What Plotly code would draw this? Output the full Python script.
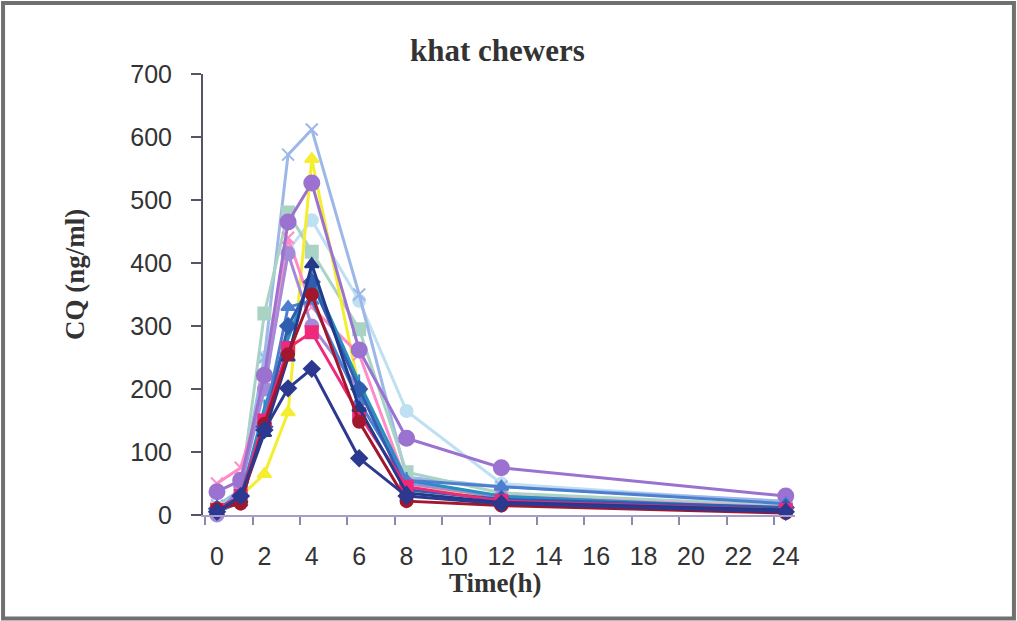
import plotly.graph_objects as go

time_h = [0, 1, 2, 3, 4, 6, 8, 12, 24]

# concentration series (ng/ml), one per subject
s_pale_cyan   = [12, 30, 250, 420, 468, 340, 165, 50, 20]
s_light_blue  = [15, 40, 250, 572, 612, 350, 60, 45, 22]
s_pale_green  = [10, 40, 320, 480, 418, 295, 68, 35, 15]
s_yellow      = [5, 30, 65, 163, 565, 200, 50, 25, 10]
s_pink_x      = [50, 75, 200, 440, 330, 255, 50, 30, 12]
s_lavender    = [0, 45, 200, 415, 300, 200, 50, 28, 10]
s_purple      = [37, 55, 222, 465, 527, 262, 122, 75, 30]
s_teal_blue   = [8, 28, 170, 280, 380, 210, 55, 30, 10]
s_mid_blue    = [5, 20, 150, 330, 340, 180, 55, 45, 18]
s_blue        = [10, 30, 140, 300, 370, 200, 40, 25, 12]
s_pink_sq     = [8, 30, 150, 265, 290, 160, 45, 22, 8]
s_navy_tri    = [5, 25, 130, 250, 398, 170, 35, 20, 8]
s_dark_red    = [10, 18, 145, 255, 350, 148, 22, 15, 3]
s_navy_diam   = [5, 30, 135, 201, 232, 90, 30, 18, 5]

series = [
    ("s1", s_pale_cyan, "#BFE0F2", "circle", 12),
    ("s2", s_light_blue, "#9DB8E8", "x-thin-open", 12),
    ("s3", s_pale_green, "#A9D3C4", "square", 12),
    ("s4", s_yellow, "#F5EE30", "triangle-up", 12),
    ("s5", s_pink_x, "#FF8CC6", "x-thin-open", 12),
    ("s6", s_lavender, "#A48BD8", "circle", 13),
    ("s7", s_purple, "#9B72CF", "circle", 15),
    ("s8", s_teal_blue, "#2A8FBF", "line-ns-open", 12),
    ("s9", s_mid_blue, "#4D7FD0", "triangle-up", 12),
    ("s10", s_blue, "#2F5DAF", "diamond", 12),
    ("s11", s_pink_sq, "#F0287A", "square", 12),
    ("s12", s_navy_tri, "#233A8A", "triangle-up", 12),
    ("s13", s_dark_red, "#A3172D", "circle", 12),
    ("s14", s_navy_diam, "#2B3990", "diamond", 12),
]

fig = go.Figure()
for name, vals, col, sym, msize in series:
    fig.add_trace(go.Scatter(
        x=time_h, y=vals, name=name, mode="lines+markers",
        line=dict(color=col, width=3),
        marker=dict(color=col, symbol=sym, size=msize,
                    line=dict(color=col, width=2)),
        cliponaxis=False, showlegend=False,
    ))

tick_vals = [0, 2, 4, 6, 8, 10, 12, 14, 16, 18, 20, 22, 24]

fig.update_layout(
    width=1017, height=621,
    margin=dict(l=0, r=0, t=0, b=0, pad=0, autoexpand=False),
    paper_bgcolor="white", plot_bgcolor="white",
    showlegend=False,
    xaxis=dict(
        domain=[203/1017, 795/1017],
        range=[-0.59, 24.39],
        tickvals=tick_vals, ticktext=[str(v) for v in tick_vals],
        ticks="", showgrid=False, zeroline=False, automargin=False,
        showline=True, linecolor="#A99CCB", linewidth=2,
        tickfont=dict(family="Liberation Sans, Arial", size=25, color="#333333"),
        ticklabelstandoff=18,
        minor=dict(tick0=-0.5, dtick=2, ticks="outside", ticklen=8,
                   tickcolor="#8E88B0", tickwidth=1.5, showgrid=False),
    ),
    yaxis=dict(
        domain=[1 - 515/621, 1 - 74/621],
        range=[0, 700], dtick=100,
        ticks="outside", ticklen=10, tickcolor="#555566", tickwidth=1.5,
        showgrid=False, zeroline=False, automargin=False,
        showline=True, linecolor="#555566", linewidth=2,
        tickfont=dict(family="Liberation Sans, Arial", size=25, color="#333333"),
        ticklabelstandoff=14,
    ),
    shapes=[dict(type="rect", xref="paper", yref="paper",
                 x0=0.003, y0=0.004, x1=0.997, y1=0.995,
                 line=dict(color="#707070", width=4))],
    annotations=[
        dict(text="<b>khat chewers</b>", xref="paper", yref="paper",
             x=497/1017, y=1 - 50/621, showarrow=False,
             xanchor="center", yanchor="middle",
             font=dict(family="Liberation Serif, Times New Roman", size=31, color="#333333")),
        dict(text="<b>Time(h)</b>", xref="paper", yref="paper",
             x=495/1017, y=1 - 583/621, showarrow=False,
             xanchor="center", yanchor="middle",
             font=dict(family="Liberation Serif, Times New Roman", size=27, color="#333333")),
        dict(text="<b>CQ (ng/ml)</b>", xref="paper", yref="paper",
             x=75/1017, y=1 - 275/621, showarrow=False, textangle=-90,
             xanchor="center", yanchor="middle",
             font=dict(family="Liberation Serif, Times New Roman", size=27, color="#333333")),
    ],
)

fig.write_html("out.html")
